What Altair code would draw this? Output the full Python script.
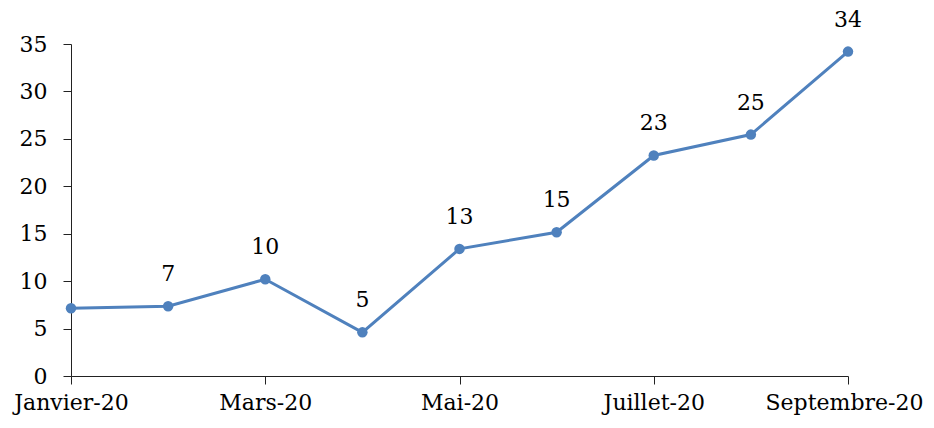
import altair as alt
import pandas as pd

months = ["Janvier-20", "Février-20", "Mars-20", "Avril-20", "Mai-20",
          "Juin-20", "Juillet-20", "Août-20", "Septembre-20"]
values = [7.15, 7.35, 10.2, 4.6, 13.4, 15.15, 23.25, 25.45, 34.2]
labels = ["", "7", "10", "5", "13", "15", "23", "25", "34"]

df = pd.DataFrame({
    "idx": list(range(len(months))),
    "month": months,
    "value": values,
    "label": labels,
})

FONT = "DejaVu Serif"
FS = 22
COLOR = "#4F81BD"

label_expr = "[" + ",".join("'%s'" % m for m in months) + "][datum.value]"

x = alt.X("idx:Q",
          scale=alt.Scale(domain=[0, 8], nice=False, zero=False),
          axis=alt.Axis(values=[0, 2, 4, 6, 8], labelExpr=label_expr,
                        title=None, grid=False, tickSize=8, labelPadding=8,
                        labelFont=FONT, labelFontSize=FS, labelColor="#000",
                        domainColor="#222", tickColor="#222",
                        labelOffset=alt.condition("datum.value == 8", alt.value(-4), alt.value(0)),
                        labelFlush=False, labelOverlap=False))
y = alt.Y("value:Q",
          scale=alt.Scale(domain=[0, 35], nice=False),
          axis=alt.Axis(values=[0, 5, 10, 15, 20, 25, 30, 35],
                        title=None, grid=False, tickSize=8, labelPadding=16,
                        labelFont=FONT, labelFontSize=FS, labelColor="#000",
                        domainColor="#222", tickColor="#222"))

base = alt.Chart(df)
line = base.mark_line(color=COLOR, strokeWidth=3).encode(x=x, y=y)
points = base.mark_point(color=COLOR, filled=True, opacity=1, size=110).encode(x=x, y=y)
text = base.mark_text(font=FONT, fontSize=FS, color="#000", baseline="alphabetic",
                      dy=-25).encode(x=x, y=y, text="label:N")

chart = (line + points + text).properties(
    width=777, height=332,
    autosize=alt.AutoSizeParams(type="none"),
    padding={"left": 63, "top": 36, "right": 78, "bottom": 44},
).configure(font=FONT).configure_view(stroke=None)

chart.save("out.html", embed_options={"renderer": "svg", "actions": False})
